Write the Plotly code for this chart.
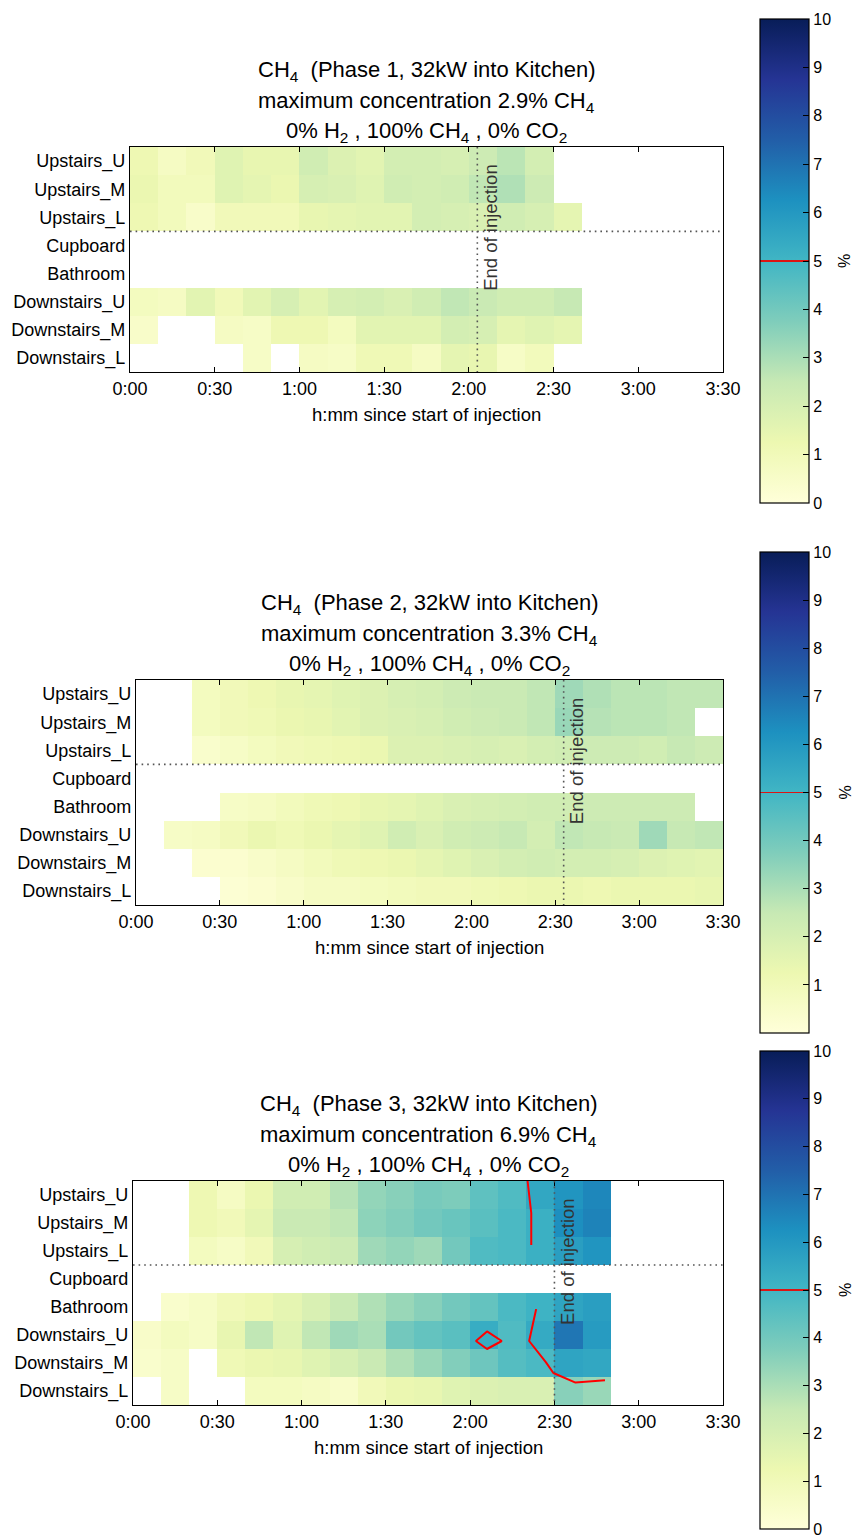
import plotly.graph_objects as go

W, H = 857, 1539
N = None
FONT = "Liberation Sans, Arial, sans-serif"

rooms = ["Upstairs_U", "Upstairs_M", "Upstairs_L", "Cupboard", "Bathroom",
         "Downstairs_U", "Downstairs_M", "Downstairs_L"]
bin_minutes = [5, 15, 25, 35, 45, 55, 65, 75, 85, 95, 105, 115, 125, 135,
               145, 155, 165, 175, 185, 195, 205]
tick_minutes = [0, 30, 60, 90, 120, 150, 180, 210]
tick_labels = ["0:00", "0:30", "1:00", "1:30", "2:00", "2:30", "3:00", "3:30"]

# CH4 concentration (%) per room (rows) and 10-minute bin (columns)
phase1_values = [
    [1.2, 0.7, 1.0, 1.7, 1.4, 1.4, 2.2, 1.8, 1.6, 2.1, 2.1, 2.0, 2.3, 2.7, 2.1, N, N, N, N, N, N],
    [1.3, 0.9, 0.9, 1.7, 1.5, 1.3, 2.0, 1.9, 1.7, 2.2, 2.1, 2.2, 2.6, 2.9, 2.3, N, N, N, N, N, N],
    [1.2, 0.9, 0.5, 1.0, 1.0, 1.0, 1.4, 1.5, 1.6, 1.6, 2.1, 2.0, 1.9, 2.2, 2.0, 1.5, N, N, N, N, N],
    [N] * 21,
    [N] * 21,
    [0.8, 0.7, 1.6, 1.0, 1.6, 2.0, 1.6, 2.0, 2.1, 1.9, 2.2, 2.6, 2.4, 2.2, 2.2, 2.5, N, N, N, N, N],
    [0.5, N, N, 0.7, 0.6, 1.2, 1.2, 0.8, 1.6, 1.6, 1.6, 2.1, 2.0, 1.5, 1.7, 1.5, N, N, N, N, N],
    [N, N, N, N, 0.6, N, 0.7, 0.6, 1.1, 1.1, 0.7, 1.5, 1.4, 0.6, 0.9, N, N, N, N, N, N],
]
phase2_values = [
    [N, N, 0.8, 1.0, 1.2, 1.4, 1.5, 1.7, 1.8, 2.0, 2.1, 2.3, 2.4, 2.4, 2.6, 3.2, 2.9, 2.7, 2.7, 2.6, 2.6],
    [N, N, 0.8, 1.0, 1.1, 1.3, 1.4, 1.6, 1.8, 1.9, 2.0, 2.2, 2.3, 2.4, 2.6, 3.3, 2.8, 2.7, 2.7, 2.6, N],
    [N, N, 0.4, 0.6, 0.8, 1.0, 1.1, 1.2, 1.3, 1.8, 1.8, 1.9, 2.0, 1.9, 2.1, 2.2, 2.3, 2.3, 2.2, 2.5, 2.3],
    [N] * 21,
    [N, N, N, 0.6, 0.7, 0.9, 1.1, 1.2, 1.4, 1.5, 1.7, 1.9, 2.0, 2.1, 2.2, 2.2, 2.3, 2.3, 2.3, 2.3, N],
    [N, 0.6, 0.7, 1.0, 1.3, 1.1, 1.3, 1.5, 1.7, 2.2, 1.9, 2.2, 2.3, 2.5, 2.1, 2.6, 2.5, 2.4, 3.2, 2.5, 2.6],
    [N, N, 0.3, 0.3, 0.5, 0.7, 0.9, 1.1, 1.2, 1.3, 1.5, 1.7, 1.9, 2.1, 2.2, 2.1, 2.1, 2.0, 1.8, 1.7, 1.6],
    [N, N, N, 0.2, 0.3, 0.5, 0.7, 0.7, 0.8, 0.9, 1.0, 1.0, 1.1, 1.2, 1.3, 1.3, 1.2, 1.3, 1.3, 1.3, 1.4],
]
phase3_values = [
    [N, N, 1.2, 0.7, 1.3, 2.2, 2.2, 2.8, 3.4, 3.6, 3.9, 3.8, 4.4, 4.7, 5.5, 6.1, 6.5, N, N, N, N],
    [N, N, 1.2, 1.0, 1.5, 2.4, 2.4, 2.6, 3.5, 3.7, 4.0, 4.2, 4.5, 4.8, 5.2, 6.3, 6.6, N, N, N, N],
    [N, N, 0.8, 0.6, 1.0, 2.0, 2.2, 2.3, 3.2, 3.4, 3.2, 4.0, 4.7, 4.8, 5.2, 5.8, 6.1, N, N, N, N],
    [N] * 21,
    [N, 0.4, 0.6, 1.0, 1.2, 1.5, 1.9, 2.4, 2.9, 3.3, 3.6, 4.0, 4.3, 4.8, 5.1, 5.6, 5.8, N, N, N, N],
    [0.5, 0.8, 0.6, 1.4, 2.6, 1.7, 2.6, 3.2, 3.0, 4.0, 4.3, 4.5, 5.3, 4.7, 5.4, 6.9, 5.9, N, N, N, N],
    [0.4, 0.6, N, 1.1, 1.3, 1.4, 1.7, 2.0, 2.4, 2.9, 3.3, 3.7, 4.1, 4.6, 4.8, 5.6, 5.5, N, N, N, N],
    [N, 0.6, N, N, 0.8, 0.8, 0.7, 0.5, 1.0, 1.3, 1.4, 1.7, 1.8, 1.9, 1.9, 3.6, 3.3, N, N, N, N],
]
phase_numbers = [1, 2, 3]
max_concentration = [2.9, 3.3, 6.9]
end_of_injection = [123, 153, 150]   # minutes
threshold = 5.0

# layout geometry (pixels)
plot_boxes = [(130, 723, 147, 372), (136, 723, 680, 905), (133, 723, 1181, 1405)]
cbar_boxes = [(19, 503), (552, 1033), (1051, 1529)]
CB_LEFT, CB_THICK = 760, 49

# YlGnBu colour map with a thin red mark at the threshold level
ylgnbu = ["#ffffd9", "#edf8b1", "#c7e9b4", "#7fcdbb", "#41b6c4",
          "#1d91c0", "#225ea8", "#253494", "#081d58"]


def hex2rgb(h):
    return tuple(int(h[i:i + 2], 16) for i in (1, 3, 5))


def lerp(c1, c2, t):
    a, b = hex2rgb(c1), hex2rgb(c2)
    return "rgb(%d,%d,%d)" % tuple(round(a[i] + (b[i] - a[i]) * t) for i in range(3))


band = 0.002
cscale = []
for i, c in enumerate(ylgnbu):
    p = i / 8
    if abs(p - 0.5) < 1e-9:
        cscale.append([0.5 - band, lerp(ylgnbu[i - 1], c, 1 - band * 8)])
        cscale.append([0.5 - band, "rgb(220,20,20)"])
        cscale.append([0.5 + band, "rgb(220,20,20)"])
        cscale.append([0.5 + band, lerp(c, ylgnbu[i + 1], band * 8)])
    else:
        cscale.append([p, c])

datasets = [phase1_values, phase2_values, phase3_values]

fig = go.Figure()
layout = dict(width=W, height=H, margin=dict(l=0, r=0, t=0, b=0, autoexpand=False),
              paper_bgcolor="white", plot_bgcolor="white",
              font=dict(family=FONT, color="black"), showlegend=False)
shapes, annotations = [], []

for k in range(3):
    x0, x1, y0, y1 = plot_boxes[k]
    sfx = "" if k == 0 else str(k + 1)
    xa, ya = "x" + sfx, "y" + sfx
    cb_top, cb_bot = cbar_boxes[k]
    cb_ticks = list(range(0, 11)) if k != 1 else list(range(1, 11))
    fig.add_trace(go.Heatmap(
        x=bin_minutes, y=list(range(len(rooms))), z=datasets[k],
        zmin=0, zmax=10, colorscale=cscale, xaxis=xa, yaxis=ya,
        hoverongaps=False,
        colorbar=dict(x=CB_LEFT / W, xanchor="left", xpad=0,
                      y=1 - cb_top / H, yanchor="top", ypad=0,
                      len=(cb_bot - cb_top) / H, lenmode="fraction",
                      thickness=CB_THICK, thicknessmode="pixels",
                      outlinewidth=1.2, outlinecolor="black",
                      tickvals=cb_ticks, ticks="inside", ticklen=6,
                      tickcolor="black", tickwidth=1,
                      ticklabeloverflow="allow",
                      tickfont=dict(size=16, family=FONT, color="black")),
    ))
    # colour bar label
    annotations.append(dict(text="%", xref="paper", yref="paper", x=845 / W,
                            y=1 - (cb_top + cb_bot) / 2 / H, xanchor="center",
                            yanchor="middle", textangle=-90, showarrow=False,
                            font=dict(size=16, family=FONT, color="black")))
    layout["xaxis" + sfx] = dict(
        domain=[x0 / W, x1 / W], anchor=ya, range=[0, 210],
        tickvals=tick_minutes, ticktext=tick_labels, ticks="inside", ticklen=5,
        tickcolor="black", showline=True, linecolor="black", linewidth=1.3,
        mirror="ticks", showgrid=False, zeroline=False,
        tickfont=dict(size=18, family=FONT, color="black"))
    layout["yaxis" + sfx] = dict(
        domain=[1 - y1 / H, 1 - y0 / H], anchor=xa, range=[7.5, -0.5],
        tickvals=list(range(len(rooms))), ticktext=rooms, ticks="",
        showline=True, linecolor="black", linewidth=1.3, mirror=True,
        showgrid=False, zeroline=False,
        tickfont=dict(size=18, family=FONT, color="black"))

    # separator between upstairs and the rest, and end of injection
    shapes.append(dict(type="line", xref=xa, yref=ya, x0=0, x1=210, y0=2.5, y1=2.5,
                       line=dict(color="#555555", width=1.6, dash="1.6px,4px")))
    shapes.append(dict(type="line", xref=xa, yref=ya, x0=end_of_injection[k],
                       x1=end_of_injection[k], y0=-0.5, y1=7.5,
                       line=dict(color="#555555", width=1.6, dash="1.6px,4px")))
    annotations.append(dict(text="End of injection", xref=xa, yref=ya,
                            x=end_of_injection[k], y=-0.5, xshift=13, yshift=-15,
                            xanchor="center", yanchor="top", textangle=-90,
                            showarrow=False,
                            font=dict(size=18.5, family=FONT, color="#333333")))

    # titles
    cx = (x0 + x1) / 2 / W
    lines = ["CH<sub>4</sub>\u00a0 (Phase %d, 32kW into Kitchen)" % phase_numbers[k],
             "maximum concentration %.1f%% CH<sub>4</sub>" % max_concentration[k],
             "0% H<sub>2</sub> , 100% CH<sub>4</sub> , 0% CO<sub>2</sub>"]
    offsets = [76, 45, 15]
    for txt, off in zip(lines, offsets):
        annotations.append(dict(text=txt, xref="paper", yref="paper", x=cx,
                                y=1 - (y0 - off) / H, xanchor="center", yanchor="middle",
                                showarrow=False,
                                font=dict(size=22, family=FONT, color="black")))
    annotations.append(dict(text="h:mm since start of injection", xref="paper",
                            yref="paper", x=cx, y=1 - (y1 + 42) / H,
                            xanchor="center", yanchor="middle", showarrow=False,
                            font=dict(size=18.5, family=FONT, color="black")))

# 5 % contour lines in phase 3: the grid is stretched corner-to-corner over the
# axes (upstairs block and downstairs block drawn separately)
p3 = phase3_values
n_rows, n_cols = len(rooms), len(bin_minutes)
col_pos = [210 * j / (n_cols - 1) for j in range(n_cols)]
row_pos = [-0.5 + 8 * i / (n_rows - 1) for i in range(n_rows)]
blocks = [([0, 1, 2], list(range(2, 17))), ([4, 5, 6, 7], list(range(0, 17)))]
for rows_idx, cols_idx in blocks:
    fig.add_trace(go.Contour(
        x=[col_pos[c] for c in cols_idx], y=[row_pos[r] for r in rows_idx],
        z=[[p3[r][c] for c in cols_idx] for r in rows_idx],
        xaxis="x3", yaxis="y3", showscale=False, hoverinfo="skip",
        contours=dict(start=threshold, end=threshold, size=1, coloring="none"),
        line=dict(color="red", width=2, smoothing=0),
    ))

layout["shapes"] = shapes
layout["annotations"] = annotations
fig.update_layout(**layout)
fig.write_html("out.html")
